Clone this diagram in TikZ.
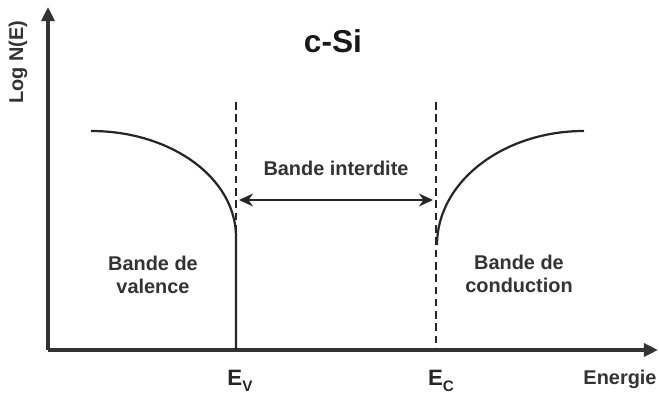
\documentclass[tikz,border=0pt]{standalone}
\usepackage{fontspec}
\setmainfont{Liberation Sans}
\usepackage{tikz}
\usetikzlibrary{arrows.meta,positioning,calc}

\newcommand{\bandsub}[1]{\raisebox{-0.5ex}{\fontsize{13}{13}\selectfont #1}}

\begin{document}
\begin{tikzpicture}[
    x=0.03cm, y=-0.03cm,
    axis/.style={draw=black!80, line width=2.7pt, -{Triangle[length=12pt,width=11pt]}},
    band/.style={draw=black!85, line width=1.9pt},
    level/.style={draw=black!85, line width=1.9pt, dash pattern=on 6.5pt off 4pt},
    gap/.style={draw=black!85, line width=1.7pt, {Stealth[length=12pt,width=11pt]}-{Stealth[length=12pt,width=11pt]}},
    lbl/.style={font=\fontsize{17}{20}\selectfont\bfseries, text=black!80, align=center, inner sep=0pt},
    edge/.style={font=\fontsize{19}{20}\selectfont\bfseries, text=black!85, inner sep=0pt},
    title/.style={font=\fontsize{27}{30}\selectfont\bfseries, text=black!90, inner sep=0pt},
]
\useasboundingbox (0,0) rectangle (659,397);

% Axes
\coordinate (origin) at (48,350);
\coordinate (ytop) at (48,7);
\coordinate (xend) at (658,350);
\draw[axis] (origin) -- (ytop);
\draw[axis] (origin) -- (xend);
\node[lbl, rotate=90] (ylabel) at (18,62) {Log N(E)};
\node[lbl] (xlabel) at (620,379) {Energie};
\node[title] (csi) at (333,41) {c-Si};

% Band edges
\coordinate (evtop) at (236,102);
\coordinate (evbot) at (236,350);
\coordinate (ectop) at (436,102);
\coordinate (ecbot) at (436,350);
\draw[level] (evtop) -- (evbot);
\draw[level] (ectop) -- (ecbot);
\node[edge] (ev) at (240,381) {E\bandsub{V}};
\node[edge] (ec) at (441,381) {E\bandsub{C}};

% Valence band
\coordinate (vstart) at (91,131);
\coordinate (vend) at (236,237);
\draw[band] (vstart) .. controls (171,131) and (236,178) .. (vend) -- (evbot);
\node[lbl] (valence) at (153,275) {Bande de\\valence};

% Conduction band
\coordinate (cstart) at (437,245);
\coordinate (cend) at (584,131);
\draw[band] (cstart) .. controls (437,182) and (503,131) .. (cend);
\node[lbl] (conduction) at (519,274) {Bande de\\conduction};

% Gap
\coordinate (gapl) at (239,200);
\coordinate (gapr) at (433,200);
\draw[gap] (gapl) -- (gapr);
\node[lbl] (interdite) at (336,168) {Bande interdite};
\end{tikzpicture}
\end{document}
